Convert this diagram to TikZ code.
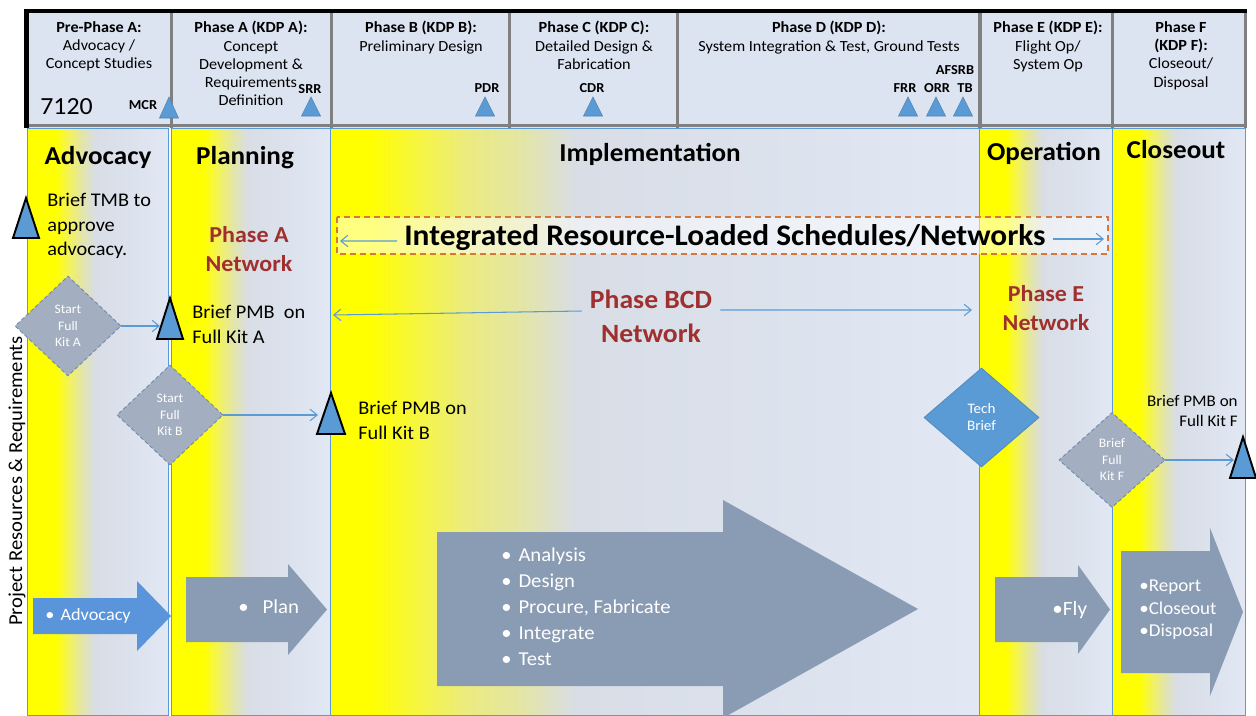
\documentclass[tikz,border=0pt]{standalone}
\usepackage{fontspec}
\setmainfont{Carlito}[FakeStretch=1.05]
\usetikzlibrary{arrows.meta,positioning,shapes.geometric}

\definecolor{hdrfill}{HTML}{DCE3F1}
\definecolor{hdrline}{HTML}{808080}
\definecolor{laneedge}{HTML}{5B9BD5}
\definecolor{lanefill}{HTML}{E1E8F4}
\definecolor{pureyellow}{HTML}{FFFF00}
\definecolor{laneA}{HTML}{F2F260}
\definecolor{laneB}{HTML}{E4E6A2}
\definecolor{laneC}{HTML}{D8DDE6}
\definecolor{wideA}{HTML}{F5F545}
\definecolor{wideB}{HTML}{EBEB80}
\definecolor{msblue}{HTML}{5B9BD5}
\definecolor{advblue}{HTML}{5A94DA}
\definecolor{slate}{HTML}{8A9BB4}
\definecolor{kitgrey}{HTML}{A3AEC0}
\definecolor{kitedge}{HTML}{6E8AB0}
\definecolor{netred}{HTML}{A0302E}
\definecolor{dashorange}{HTML}{D9773A}

% yellow-to-grey band used for every phase lane
\pgfdeclarehorizontalshading{laneshade}{100bp}{color(0bp)=(pureyellow); color(35bp)=(pureyellow); color(40bp)=(laneA); color(44bp)=(laneB); color(49bp)=(laneC); color(75bp)=(lanefill); color(100bp)=(lanefill)}
\pgfdeclarehorizontalshading{wideshade}{100bp}{color(0bp)=(pureyellow); color(28bp)=(pureyellow); color(32bp)=(wideA); color(35.5bp)=(wideB); color(39.5bp)=(laneB); color(44bp)=(laneC); color(75bp)=(lanefill); color(100bp)=(lanefill)}

\begin{document}
\begin{tikzpicture}[x=0.2mm,y=-0.2mm,every node/.style={inner sep=0pt},
  hd/.style={font=\fontsize{8.8}{10.4}\selectfont,align=center,anchor=north},
  revlbl/.style={font=\bfseries\fontsize{7.8}{8}\selectfont},
  hdtri/.style={fill=msblue,draw=msblue!85!black,line width=0.3pt},
  hdrrule/.style={draw=hdrline,line width=0.7mm},
  lane/.style={draw=laneedge,line width=0.5pt},
  lanelbl/.style={font=\bfseries\fontsize{14.7}{16}\selectfont,anchor=base},
  net/.style={font=\bfseries\fontsize{13}{16.5}\selectfont,text=netred,align=center},
  note/.style={font=\fontsize{11}{14}\selectfont,align=left,anchor=north west},
  tri/.style={fill=msblue,draw=black,line width=1.1pt},
  kit/.style={diamond,fill=kitgrey,draw=kitedge,line width=0.5pt,dash pattern=on 2.2pt off 1.4pt,
    text=white,align=center,font=\fontsize{7.4}{9.4}\selectfont,minimum width=21.2mm,minimum height=20mm},
  flow/.style={draw=msblue,line width=0.6pt,-{Straight Barb[length=4pt,width=6.5pt]}},
  irlbox/.style={draw=dashorange,line width=0.6pt,dash pattern=on 3.4pt off 2.3pt,fill=white,fill opacity=0.5},
  wtext/.style={text=white}]
\useasboundingbox (0,0) rectangle (1256,715);
\clip (0,0) rectangle (1256,715);

% phase lanes
\shadedraw[lane,shading=laneshade] (27,128) rectangle (168.5,715);
\shadedraw[lane,shading=laneshade] (171.5,128) rectangle (330.5,715);
\shadedraw[lane,shading=wideshade] (330.5,128) rectangle (979,715);
\shadedraw[lane,shading=laneshade] (979,128) rectangle (1112.5,715);
\shadedraw[lane,shading=laneshade] (1112.5,128) rectangle (1245,715);

% header row
\fill[hdrfill] (24,9) rectangle (1247,128);
\foreach \x in {171.7,331.5,509.4,677.7,980,1112.7,1245.3}
  \draw[hdrrule] (\x,11) -- (\x,128);
\draw[hdrrule] (24,125.5) -- (1247,125.5);
\draw[line width=0.9mm] (26.7,128) -- (26.7,11.2) -- (1247,11.2);

\node[hd] (hpre) at (99,21) {\textbf{Pre-Phase A:}\\Advocacy /\\Concept Studies};
\node[hd] (hA) at (251,21) {\textbf{Phase A (KDP A):}\\Concept\\Development \&\\Requirements\\Definition};
\node[hd] (hB) at (421,21) {\textbf{Phase B (KDP B):}\\Preliminary Design};
\node[hd] (hC) at (594,21) {\textbf{Phase C (KDP C):}\\Detailed Design \&\\Fabrication};
\node[hd] (hD) at (829,21) {\textbf{Phase D (KDP D):}\\System Integration \& Test, Ground Tests};
\node[hd] (hE) at (1048,21) {\textbf{Phase E (KDP E):}\\Flight Op/\\System Op};
\node[hd] (hF) at (1181,21) {\textbf{Phase F}\\\textbf{(KDP F):}\\Closeout/\\Disposal};
\node[anchor=base west,font=\fontsize{14}{16}\selectfont] (code) at (40,114) {7120};

% reviews
\node[revlbl] (mcr) at (143,105) {MCR};
\node[revlbl] (srr) at (310,89) {SRR};
\node[revlbl] (pdr) at (487,88) {PDR};
\node[revlbl] (cdr) at (592,88) {CDR};
\node[revlbl] (afsrb) at (955,70) {AFSRB};
\node[revlbl] (frr) at (905,88) {FRR};
\node[revlbl] (orr) at (937,88) {ORR};
\node[revlbl] (tb) at (965,88) {TB};
\draw[hdtri] (159.5,118) -- (169,97) -- (178.5,118) -- cycle;
\foreach \x in {311,485,593,908,936,963}
  \draw[hdtri] (\x-9.5,116) -- (\x,97) -- (\x+9.5,116) -- cycle;

% lane titles
\node[lanelbl] (ladv) at (98,164) {Advocacy};
\node[lanelbl] (lplan) at (245,164) {Planning};
\node[lanelbl] (limpl) at (650,161) {Implementation};
\node[lanelbl] (lop) at (1044,160) {Operation};
\node[lanelbl] (lclose) at (1176,158) {Closeout};

% networks
\draw[irlbox] (337,217) rectangle (1108,254);
\node[font=\bfseries\fontsize{17}{20}\selectfont,inner xsep=1.4mm] (irl) at (725,238) {Integrated Resource-Loaded Schedules/Networks};
\coordinate (irlL) at (340,241);
\coordinate (irlR) at (1104,239);
\draw[flow] ([yshift=-0.6mm]irl.west) -- (irlL);
\draw[flow] ([yshift=-0.2mm]irl.east) -- (irlR);

\node[net] (netA) at (249,249) {Phase A\\Network};
\node[net,font=\bfseries\fontsize{15}{19.3}\selectfont] (bcd) at (651,316) {Phase BCD\\Network};
\node[net] (netE) at (1046,308) {Phase E\\Network};
\coordinate (bcdL) at (333,315);
\coordinate (bcdR) at (972,310);
\draw[flow] ([xshift=-1.6mm,yshift=1mm]bcd.west) -- (bcdL);
\draw[flow] ([xshift=1.6mm,yshift=1.2mm]bcd.east) -- (bcdR);

% briefings and full kits
\draw[tri] (13,238) -- (26,198) -- (39,238) -- cycle;
\node[note] (tmb) at (47,193) {Brief TMB to\\approve\\advocacy.};

\node[kit] (kitA) at (68,326) {Start\\Full\\Kit A};
\draw[tri] (157,339) -- (170,298) -- (183,339) -- cycle;
\coordinate (kitAtri) at (160,326);
\draw[flow] (kitA.east) -- (kitAtri);
\node[note] (pmbA) at (192,305) {Brief PMB~ on\\Full Kit A};

\node[kit] (kitB) at (170,415) {Start\\Full\\Kit B};
\draw[tri] (317,434) -- (331,393) -- (345,434) -- cycle;
\coordinate (kitBtri) at (318,415);
\draw[flow] (kitB.east) -- (kitBtri);
\node[note] (pmbB) at (358,401) {Brief PMB on\\Full Kit B};

\node[kit,fill=msblue,draw=msblue!90!black,solid,font=\fontsize{8.2}{9.7}\selectfont,
  minimum width=23mm,minimum height=19.8mm] (tech) at (981.5,417.5) {Tech\\Brief};

\node[kit,minimum height=19mm] (kitF) at (1112,460) {Brief\\Full\\Kit F};
\draw[tri] (1230,478) -- (1243,437) -- (1256,478) -- cycle;
\coordinate (kitFtri) at (1234,460);
\draw[flow] (kitF.east) -- (kitFtri);
\node[note,anchor=north east,align=right,font=\fontsize{9.2}{11.4}\selectfont] (pmbF) at (1238,395) {Brief PMB on\\Full Kit F};

% side label
\node[rotate=90,font=\fontsize{11.2}{12}\selectfont] (side) at (17,481) {Project Resources \& Requirements};

% work arrows
\fill[advblue] (33,598) -- (137,598) -- (137,581) -- (171,616) -- (137,651) -- (137,634) -- (33,634) -- cycle;
\fill[slate] (186,577) -- (288,577) -- (288,564) -- (327,609.5) -- (288,655) -- (288,642) -- (186,642) -- cycle;
\fill[slate] (437,532) -- (723,532) -- (723,500) -- (918,609) -- (723,718) -- (723,686) -- (437,686) -- cycle;
\fill[slate] (995,577) -- (1078,577) -- (1078,565) -- (1110,609.5) -- (1078,654) -- (1078,642) -- (995,642) -- cycle;
\fill[slate] (1121,551) -- (1210,551) -- (1210,528) -- (1243,612) -- (1210,696) -- (1210,673) -- (1121,673) -- cycle;

\node[wtext,anchor=west,font=\fontsize{9.9}{12}\selectfont] (wadv) at (45,616) {•\hspace{0.35em}Advocacy};
\node[wtext,anchor=west,font=\fontsize{11.3}{14}\selectfont] (wplan) at (238,607) {•\hspace{0.7em}Plan};
\node[wtext,anchor=north west,align=left,font=\fontsize{11.2}{14.9}\selectfont] (wimpl) at (501,547)
  {•\hspace{0.35em}Analysis\\•\hspace{0.35em}Design\\•\hspace{0.35em}Procure, Fabricate\\•\hspace{0.35em}Integrate\\•\hspace{0.35em}Test};
\node[wtext,anchor=west,font=\fontsize{11.5}{14}\selectfont] (wfly) at (1052,610) {•Fly};
\node[wtext,anchor=north west,align=left,font=\fontsize{10.3}{12.8}\selectfont] (wclose) at (1139,580)
  {•Report\\•Closeout\\•Disposal};
\end{tikzpicture}
\end{document}
